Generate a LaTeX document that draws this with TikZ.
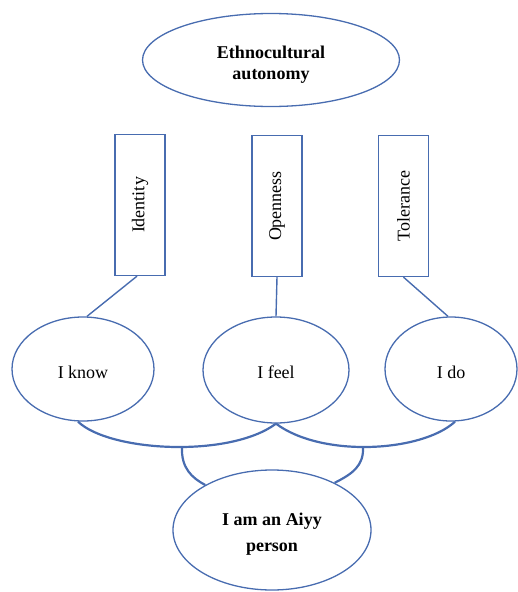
\documentclass[tikz,border=0pt]{standalone}
\usepackage{fontspec}
\setmainfont{Liberation Serif}
\usetikzlibrary{shapes.geometric}
\definecolor{edgeblue}{RGB}{72,108,176}
\newcommand{\lowered}[2]{\raisebox{#1}[\height][\depth]{#2}}
\newcommand{\twolines}[3]{\lowered{#1}{\begin{tabular}{@{}c@{}}#2\\#3\end{tabular}}}
\tikzset{
  txt/.style={font=\fontsize{18}{21}\selectfont, text=black, align=center},
  oval/.style={ellipse, draw=edgeblue, line width=1.3pt, inner sep=0pt, txt},
  bar/.style={rectangle, draw=edgeblue, line width=1.3pt, inner sep=0pt, minimum width=50pt, minimum height=141pt, txt},
  link/.style={draw=edgeblue, line width=1.4pt},
  arc/.style={draw=edgeblue, line width=2.2pt}
}
\begin{document}
\begin{tikzpicture}[x=1pt, y=-1pt]
\useasboundingbox (0,0) rectangle (517,592);
\node[oval, minimum width=257pt, minimum height=93pt] (ethno) at (271,60) {\twolines{-5pt}{\textbf{Ethnocultural}}{\textbf{autonomy}}};
\node[bar] (identity) at (140,205) {\rotatebox{90}{Identity}};
\node[bar] (openness) at (277,206) {\rotatebox{90}{Openness}};
\node[bar] (tolerance) at (403.5,206) {\rotatebox{90}{Tolerance}};
\node[oval, minimum width=142pt, minimum height=104pt] (iknow) at (83,369) {\lowered{-3pt}{I know}};
\node[oval, minimum width=146pt, minimum height=106pt] (ifeel) at (276,370) {\lowered{-2pt}{I feel}};
\node[oval, minimum width=132pt, minimum height=104pt] (ido) at (451,369) {\lowered{-3pt}{I do}};
\node[oval, minimum width=198pt, minimum height=120pt] (aiyy) at (272,530) {\twolines{-4pt}{\textbf{I am an Aiyy}}{\rule{0pt}{20pt}\textbf{person}}};
\draw[link] ([xshift=-3pt]identity.south) -- ([xshift=4pt]iknow.north);
\draw[link] (openness.south) -- (ifeel.north);
\draw[link] (tolerance.south) -- ([xshift=-3pt]ido.north);
\draw[arc] ([xshift=-5pt]iknow.south) .. controls (110,452) and (230,458) .. (ifeel.south);
\draw[arc] (ifeel.south) .. controls (322,458) and (422,452) .. ([xshift=4pt]ido.south);
\coordinate (jl) at (182,447);
\coordinate (jr) at (363,447);
\draw[arc] (jl) .. controls (181,468) and (192,478) .. (aiyy.146);
\draw[arc] (jr) .. controls (364,466) and (352,474) .. (aiyy.37);
\end{tikzpicture}
\end{document}
